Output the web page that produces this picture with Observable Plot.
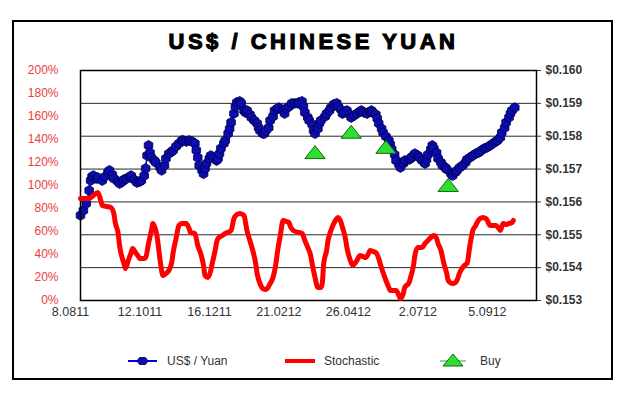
<!DOCTYPE html>
<html><head><meta charset="utf-8">
<script src="https://cdn.jsdelivr.net/npm/d3@7"></script>
<script src="https://cdn.jsdelivr.net/npm/@observablehq/plot@0.6"></script>
<style>
html,body{margin:0;padding:0;background:#fff;}
#wrap{position:relative;width:627px;height:402px;overflow:hidden;font-family:"Liberation Sans",Arial,sans-serif;}
#border{position:absolute;left:12px;top:20px;width:597px;height:356px;border:2px solid #000;}
#title{position:absolute;left:0;width:627px;top:29px;text-align:center;font-size:22px;font-weight:bold;letter-spacing:3.5px;-webkit-text-stroke:1.1px #000;color:#000;line-height:26px;}
.layer{position:absolute;left:0;top:0;}
#legend{position:absolute;left:0;top:348px;}
</style></head>
<body><div id="wrap"><div id="border"></div><div id="title">US$ / CHINESE YUAN</div>
<div id="bottomLayer" class="layer"></div><div id="topLayer" class="layer"></div>
<svg id="legend" width="627" height="28" font-family="Liberation Sans, Arial, sans-serif" font-size="12" fill="#333">
<line x1="128" x2="157" y1="13" y2="13" stroke="#0000e0" stroke-width="2"/>
<path d="M137,13 l2.5,-3.5 h6 l2.5,3.5 l-2.5,3.5 h-6 z" fill="#0c0cb0" stroke="#00004a" stroke-width="0.8"/>
<text x="167" y="17">US$ / Yuan</text>
<line x1="285" x2="315" y1="13" y2="13" stroke="#ff0000" stroke-width="4"/>
<text x="324" y="17">Stochastic</text>
<line x1="440" x2="466" y1="13" y2="13" stroke="#22aa22" stroke-width="1"/>
<path d="M453,6 L463,18 L443,18 Z" fill="#2ee02e" stroke="#146414" stroke-width="1"/>
<text x="480" y="17">Buy</text>
</svg>
</div>
<script>
// US$ / Yuan (right axis), x = trading-day index
const usdDays = [
0,2,4,6,7,8,9,11,12,15,
17,19,20,22,23,26,27,29,30,32,
34,35,37,39,41,42,44,45,46,47,
48,49,51,52,55,56,58,59,61,63,
64,66,68,70,71,73,75,77,79,80,
81,82,84,85,86,87,89,90,92,94,
95,96,97,99,100,102,103,104,106,107,
108,110,111,113,114,115,117,118,120,122,
123,124,126,127,128,130,131,133,134,136,
137,140,141,142,144,146,148,150,151,153,
154,155,157,158,160,161,162,164,165,166,
169,170,172,173,175,177,178,180,181,182,
184,186,187,189,191,193,194,196,198,200,
201,202,204,205,206,208,209,211,213,214,
215,217,218,220,221,223,224,227,228,229,
231,233,234,236,238,239,240,242,243,244,
246,247,249,250,252,253,256,257,259,260,
262,264,266,267,269,271,273,275,277,279,
281,283,285,287,288,290,291,293,294,296,
297,298,300];
const usdValues = [
0.15559,0.15574,0.15595,0.15635,0.15665,0.15677,0.15680,0.15671,0.15674,0.15665,
0.15677,0.15690,0.15696,0.15683,0.15671,0.15662,0.15656,0.15662,0.15668,0.15671,
0.15677,0.15680,0.15668,0.15659,0.15662,0.15665,0.15680,0.15702,0.15741,0.15772,
0.15750,0.15735,0.15726,0.15720,0.15705,0.15696,0.15711,0.15732,0.15747,0.15753,
0.15757,0.15769,0.15778,0.15787,0.15787,0.15784,0.15787,0.15784,0.15778,0.15757,
0.15735,0.15711,0.15696,0.15686,0.15702,0.15717,0.15732,0.15741,0.15735,0.15726,
0.15732,0.15747,0.15763,0.15778,0.15787,0.15808,0.15823,0.15842,0.15869,0.15890,
0.15903,0.15906,0.15900,0.15878,0.15872,0.15878,0.15866,0.15857,0.15848,0.15839,
0.15826,0.15817,0.15808,0.15808,0.15817,0.15826,0.15848,0.15860,0.15878,0.15884,
0.15887,0.15878,0.15869,0.15884,0.15890,0.15900,0.15900,0.15900,0.15903,0.15906,
0.15890,0.15872,0.15857,0.15848,0.15836,0.15817,0.15808,0.15823,0.15839,0.15848,
0.15860,0.15869,0.15878,0.15887,0.15897,0.15900,0.15890,0.15881,0.15869,0.15872,
0.15878,0.15866,0.15857,0.15863,0.15869,0.15875,0.15878,0.15872,0.15869,0.15875,
0.15878,0.15872,0.15866,0.15854,0.15839,0.15823,0.15811,0.15799,0.15787,0.15775,
0.15760,0.15744,0.15726,0.15714,0.15705,0.15717,0.15726,0.15729,0.15732,0.15738,
0.15747,0.15741,0.15735,0.15726,0.15717,0.15729,0.15744,0.15760,0.15772,0.15763,
0.15750,0.15732,0.15720,0.15711,0.15705,0.15699,0.15686,0.15680,0.15690,0.15696,
0.15705,0.15711,0.15720,0.15729,0.15735,0.15741,0.15747,0.15750,0.15757,0.15763,
0.15766,0.15772,0.15778,0.15784,0.15787,0.15796,0.15811,0.15826,0.15842,0.15857,
0.15869,0.15878,0.15887];

// Stochastic (left axis, %)
const stochDays = [
0,3,6,8,12,14,15,18,21,23,
24,26,27,28,30,31,33,35,36,38,
40,41,44,45,47,49,50,52,53,55,
57,59,61,63,64,66,68,70,73,75,
76,79,81,83,85,86,88,90,91,93,
94,95,98,100,104,106,108,110,113,114,
115,117,119,121,122,124,126,128,129,131,
133,135,136,138,140,142,144,145,147,151,
153,155,157,159,160,162,164,166,167,168,
170,171,173,175,177,178,180,181,183,184,
186,188,190,191,193,195,197,199,200,202,
204,206,207,209,211,213,214,216,218,220,
221,223,224,227,228,230,231,233,235,236,
238,240,242,244,246,247,249,251,253,254,
257,259,260,262,264,266,267,269,271,273,
274,276,278,280,281,283,285,287,289,290,
292,294,296,298,299];
const stochValues = [
88.7,88.7,88.7,90.4,93.9,86.9,82.6,81.7,80.9,75.7,
67.8,58.3,47.8,40.9,32.2,27.8,34.8,41.7,45.2,41.7,
38.3,36.5,36.5,37.4,49.6,60.9,67.0,60.9,54.8,34.8,
21.7,23.5,26.1,33.0,41.7,53.9,65.2,67.0,67.0,62.6,
59.1,58.3,47.8,40.9,30.4,21.7,20.0,26.1,32.2,43.5,
50.4,53.9,56.5,58.3,60.9,71.3,74.8,75.7,73.9,67.8,
60.9,52.2,43.5,32.2,23.5,14.8,10.4,9.6,10.4,14.8,
20.0,32.2,41.7,56.5,69.6,68.7,67.8,64.3,60.9,59.1,
58.3,52.2,46.1,39.1,32.2,20.0,11.3,11.3,14.8,32.2,
43.5,52.2,60.9,67.0,71.3,72.2,67.8,63.5,53.9,46.1,
36.5,30.4,33.0,34.8,39.1,38.3,37.4,40.9,43.5,42.6,
41.7,36.5,32.2,24.3,17.4,11.3,8.7,8.7,8.7,4.3,
1.7,6.1,11.3,15.7,20.0,30.4,39.1,46.1,46.1,46.1,
49.6,52.2,54.8,56.5,53.9,49.6,43.5,32.2,23.5,17.4,
14.8,15.7,17.4,24.3,28.7,31.3,32.2,47.8,60.9,65.2,
67.8,71.3,72.2,71.3,69.6,65.2,65.2,65.2,62.6,60.9,
67.0,66.1,67.0,67.8,69.6];

// Buy signals
const buyDays = [162, 187, 211, 254];
const buyValues = [0.15750, 0.15812, 0.15766, 0.15650];

// Axes
const xTickDays = [0, 48, 96, 144, 192, 240, 288];
const xTickLabels = ["8.0811", "12.1011", "16.1211", "21.0212", "26.0412", "2.0712", "5.0912"];
const priceTicks = [0.153, 0.154, 0.155, 0.156, 0.157, 0.158, 0.159, 0.160];
const pctTicks = [0, 20, 40, 60, 80, 100, 120, 140, 160, 180, 200];

const usd = usdDays.map((d, i) => ({day: d, value: usdValues[i]}));
const stoch = stochDays.map((d, i) => ({day: d, pct: stochValues[i]}));
const buy = buyDays.map((d, i) => ({day: d, value: buyValues[i]}));

const flatTriangle = {
  draw(ctx, size) {
    const s = Math.sqrt(size / Math.PI);
    ctx.moveTo(0, -s);
    ctx.lineTo(1.45 * s, 0.85 * s);
    ctx.lineTo(-1.45 * s, 0.85 * s);
    ctx.closePath();
  }
};

const common = {
  width: 627, height: 340,
  marginTop: 70, marginBottom: 40, marginLeft: 80, marginRight: 91,
  style: {background: "transparent", fontFamily: "Liberation Sans, Arial, sans-serif", fontSize: "12px", overflow: "visible"}
};

const priceChart = Plot.plot({
  ...common,
  x: {type: "linear", domain: [0, 315]},
  y: {domain: [0.153, 0.160]},
  marks: [
    Plot.gridY(priceTicks, {stroke: "#111", strokeOpacity: 0.9, strokeWidth: 1}),
    Plot.line(usd, {x: "day", y: "value", stroke: "#0000e0", strokeWidth: 1.5}),
    Plot.dot(usd, {x: "day", y: "value", r: 4.3, symbol: "hexagon", fill: "#0c0cb0", stroke: "#00004a", strokeWidth: 0.8}),
    Plot.dot(buy, {x: "day", y: "value", r: 7, symbol: flatTriangle, fill: "#2ee02e", stroke: "#146414", strokeWidth: 1}),
    Plot.frame({stroke: "#000", strokeWidth: 1.5}),
    Plot.axisY(priceTicks, {anchor: "right", tickFormat: d => "$" + d.toFixed(3), tickSize: 4, tickPadding: 5, fontWeight: "bold", color: "#333", label: null}),
    Plot.axisX(xTickDays, {anchor: "bottom", tickFormat: d => xTickLabels[xTickDays.indexOf(d)], tickSize: 0, tickPadding: 7, dx: -10, color: "#333", fontSize: 12.5, label: null})
  ]
});
document.getElementById("bottomLayer").appendChild(priceChart);

const stochChart = Plot.plot({
  ...common,
  x: {type: "linear", domain: [0, 315], axis: null},
  y: {domain: [0, 200]},
  marks: [
    Plot.line(stoch, {x: "day", y: "pct", stroke: "#ff0000", strokeWidth: 5, curve: "monotone-x", strokeLinejoin: "round"}),
    Plot.axisY(pctTicks, {anchor: "left", tickFormat: d => d + "%", tickSize: 0, tickPadding: 22, color: "#e8413c", fontSize: 12, label: null})
  ]
});
document.getElementById("topLayer").appendChild(stochChart);
</script>
</body></html>
